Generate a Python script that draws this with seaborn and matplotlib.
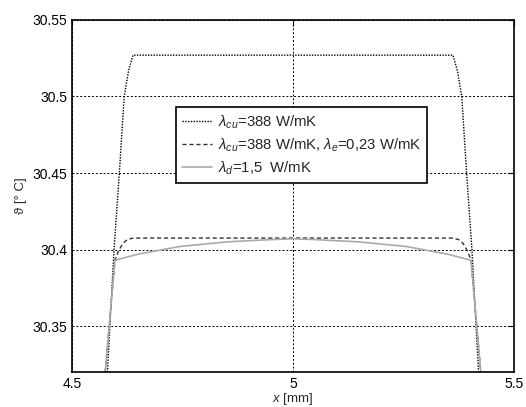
import numpy as np
import pandas as pd
import matplotlib
matplotlib.use("Agg")
import matplotlib.pyplot as plt
import seaborn as sns

# ---- data ----
x_cu = [4.580, 4.595, 4.607, 4.618, 4.628, 4.638, 5.362, 5.372, 5.382, 5.393, 5.405, 5.420]
y_cu = [30.320, 30.400, 30.450, 30.500, 30.517, 30.527, 30.527, 30.517, 30.500, 30.450, 30.400, 30.320]

x_e = [4.575, 4.597, 4.605, 4.615, 4.625, 4.638, 5.362, 5.375, 5.385, 5.395, 5.403, 5.425]
y_e = [30.320, 30.393, 30.399, 30.404, 30.4065, 30.4075, 30.4075, 30.4065, 30.404, 30.399, 30.393, 30.320]

x_d = [4.575, 4.597, 4.650, 4.744, 4.850, 4.950, 5.000, 5.050, 5.150, 5.256, 5.350, 5.403, 5.425]
y_d = [30.320, 30.393, 30.397, 30.402, 30.405, 30.4065, 30.407, 30.4065, 30.405, 30.402, 30.397, 30.393, 30.320]

labels = [r"$\lambda_{cu}$=388 W/mK",
          r"$\lambda_{cu}$=388 W/mK, $\lambda_{e}$=0,23 W/mK",
          r"$\lambda_{d}$=1,5  W/mK"]
x_ticks = [4.5, 5.0, 5.5]
x_tick_labels = ["4.5", "5", "5.5"]
y_ticks = [30.35, 30.40, 30.45, 30.50, 30.55]
y_tick_labels = ["30.35", "30.4", "30.45", "30.5", "30.55"]

sns.set_style("white")
plt.rcParams["font.family"] = ["Liberation Sans", "DejaVu Sans"]
plt.rcParams["mathtext.fontset"] = "custom"
plt.rcParams["mathtext.rm"] = "Liberation Sans"
plt.rcParams["mathtext.it"] = "Liberation Sans:italic"

fig = plt.figure(figsize=(5.26, 4.07), dpi=100)
ax = fig.add_axes([0.137, 0.086, 0.840, 0.865])

styles = [dict(color="black", linestyle=(0, (1, 1)), linewidth=1.0),
          dict(color="#333333", linestyle=(0, (3, 2)), linewidth=1.0),
          dict(color="#aaaaaa", linestyle="-", linewidth=1.2)]
for xs, ys, lab, st in zip([x_cu, x_e, x_d], [y_cu, y_e, y_d], labels, styles):
    df = pd.DataFrame({"x": xs, "y": ys})
    sns.lineplot(data=df, x="x", y="y", ax=ax, sort=False, estimator=None,
                 label=lab, **st)

ax.set_xlim(4.5, 5.5)
ax.set_ylim(30.32, 30.55)
ax.set_xticks(x_ticks)
ax.set_xticklabels(x_tick_labels)
ax.set_yticks(y_ticks)
ax.set_yticklabels(y_tick_labels)
ax.tick_params(direction="in", length=4, width=0.8, labelsize=10, colors="black",
               top=True, right=True)
ax.grid(True, color="black", linestyle=(0, (2, 2)), linewidth=0.7)
for s in ax.spines.values():
    s.set_visible(True)
    s.set_color("black")
    s.set_linewidth(1.2)

ax.set_xlabel(r"$x$ [mm]", fontsize=9.5, labelpad=0)
ax.set_ylabel("ϑ [° C]", fontsize=9.5, labelpad=4)

leg = ax.legend(loc="upper left", bbox_to_anchor=(0.235, 0.752), fontsize=10.7,
                frameon=True, fancybox=False, framealpha=1, edgecolor="black",
                handlelength=2.0, handletextpad=0.4, borderpad=0.4,
                labelspacing=0.38, borderaxespad=0)
leg.get_frame().set_linewidth(1.2)

fig.savefig("out.png", dpi=100)
